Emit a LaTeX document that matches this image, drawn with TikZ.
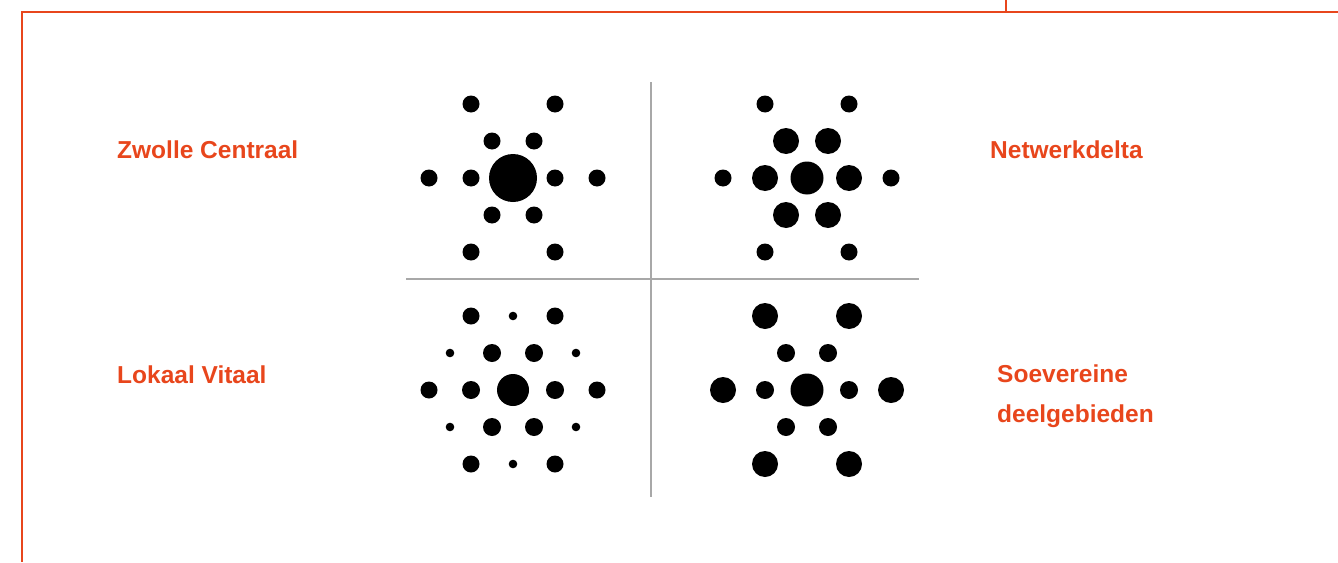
\documentclass[tikz,border=0pt]{standalone}
\usepackage{fontspec}
\usepackage{tikz}
\usepackage{xcolor}
\setmainfont{Liberation Sans}
\definecolor{Orange}{HTML}{E8461C}
\definecolor{Rule}{HTML}{A8A8A8}
\tikzset{
  frame/.style={draw=Orange,line width=2.2pt},
  axis/.style={draw=Rule,line width=2pt},
  label/.style={
    anchor=base west,inner sep=0pt,align=left,text=Orange,
    font=\fontsize{24.5}{40}\selectfont\bfseries
  },
  dot/.style={fill=black}
}

\begin{document}
\begin{tikzpicture}[x=1pt,y=-1pt]
  \useasboundingbox (0,0) rectangle (1338,562);
  % orange frame
  \draw[frame] (1338,12) -- (22,12) -- (22,562);
  \draw[frame] (1006,0) -- (1006,12);
  % quadrant cross
  \draw[axis] (651,82) -- (651,497);
  \draw[axis] (406,279) -- (919,279);
  % clusters: centre x/y, centre dot, inner ring, outer ring
  \foreach \cx/\cy/\rc/\ri/\ro in {513/178/24/8.5/8.5,807/178/16.5/13/8.5,
      513/390/16/9/8.5,807/390/16.5/9/13}{
    \fill[dot] (\cx,\cy) circle[radius=\rc pt];
    \foreach \dx/\dy in {-21/-37,21/-37,-42/0,42/0,-21/37,21/37}
      \fill[dot] (\cx+\dx,\cy+\dy) circle[radius=\ri pt];
    \foreach \dx/\dy in {-42/-74,42/-74,-84/0,84/0,-42/74,42/74}
      \fill[dot] (\cx+\dx,\cy+\dy) circle[radius=\ro pt];
  }
  % tiny dots, lower left only
  \foreach \dx/\dy in {0/-74,-63/-37,63/-37,-63/37,63/37,0/74}
    \fill[dot] (513+\dx,390+\dy) circle[radius=4.3pt];
  % labels
  \node[label] (zwolle) at (117,158) {Zwolle Centraal};
  \node[label] (delta) at (990,158) {Netwerkdelta};
  \node[label] (lokaal) at (117,383) {Lokaal Vitaal};
  \node[label] (soeverein) at (997,422) {Soevereine\\deelgebieden};
\end{tikzpicture}
\end{document}
